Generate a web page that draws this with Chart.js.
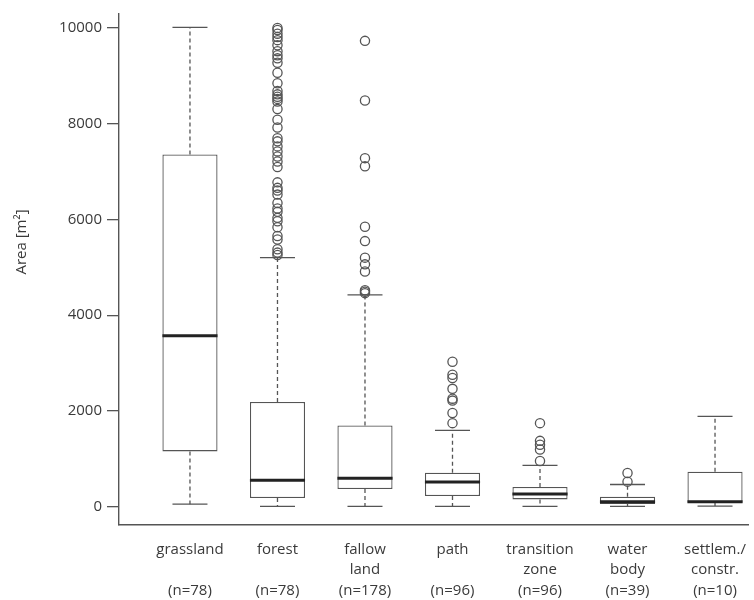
<!DOCTYPE html>
<html>
<head>
<meta charset="utf-8">
<script src="https://cdn.jsdelivr.net/npm/chart.js@4/dist/chart.umd.min.js"></script>
<style>
  html, body { margin: 0; padding: 0; background: #fff; }
  canvas { display: block; }
</style>
</head>
<body>
<canvas id="c" width="754" height="600"></canvas>
<script>
// Land-cover classes and their sample sizes
const categories = [
  ['grassland'], ['forest'], ['fallow', 'land'], ['path'],
  ['transition', 'zone'], ['water', 'body'], ['settlem./', 'constr.']
];
const sampleSizes = [78, 78, 178, 96, 96, 39, 10];

// Five-number summaries (area in m²)
const whiskerLow  = [60,    15,   15,   15,   15,  15,  20];
const q1          = [1160,  190,  375,  230,  160, 62,  90];
const median      = [3570,  560,  600,  525,  270, 110, 110];
const q3          = [7350,  2190, 1700, 715,  420, 215, 735];
const whiskerHigh = [10000, 5200, 4425, 1600, 870, 470, 1890];

// Values beyond the whiskers
const outliersGrassland = [];
const outliersForest = [9990, 9945, 9870, 9800, 9735, 9630, 9505, 9420, 9355, 9265,
  9055, 8835, 8675, 8605, 8555, 8510, 8455, 8300, 8075, 7915, 7690, 7625, 7520, 7415,
  7310, 7205, 7090, 6770, 6655, 6600, 6515, 6340, 6225, 6155, 6030, 5960, 5835, 5650,
  5580, 5375, 5305, 5255];
const outliersFallow = [9720, 8475, 7275, 7105, 5845, 5545, 5200, 5060, 4910, 4520, 4490, 4460];
const outliersPath = [3030, 2760, 2690, 2465, 2260, 2220, 1960, 1750];
const outliersTransition = [1750, 1380, 1300, 1200, 960];
const outliersWater = [710, 530];
const outliersSettlement = [];
const outliers = [outliersGrassland, outliersForest, outliersFallow, outliersPath,
  outliersTransition, outliersWater, outliersSettlement];

const yTicks = [0, 2000, 4000, 6000, 8000, 10000];

// Geometry in x-axis units (one category = 1 unit)
const BOX_FRACTION = 0.63;
const HALF_BOX = BOX_FRACTION / 2;
const HALF_CAP = 0.2;

const xs = categories.map((_, i) => i + 1);

const boxData = xs.map((x, i) => ({ x, y: [q1[i], q3[i]] }));
const medianData = xs.flatMap((x, i) => [
  { x: x - HALF_BOX, y: median[i] }, { x: x + HALF_BOX, y: median[i] }, { x, y: null }
]);
const whiskerData = xs.flatMap((x, i) => [
  { x, y: q3[i] }, { x, y: whiskerHigh[i] }, { x, y: null },
  { x, y: q1[i] }, { x, y: whiskerLow[i] }, { x, y: null }
]);
const capData = xs.flatMap((x, i) => [
  { x: x - HALF_CAP, y: whiskerHigh[i] }, { x: x + HALF_CAP, y: whiskerHigh[i] }, { x, y: null },
  { x: x - HALF_CAP, y: whiskerLow[i] }, { x: x + HALF_CAP, y: whiskerLow[i] }, { x, y: null }
]);
const outlierData = xs.flatMap((x, i) => outliers[i].map(v => ({ x, y: v })));

const FONT = "'Open Sans', 'DejaVu Sans', sans-serif";
const TEXT = '#3a3a3a';
const LINE = '#555';

const whiteBackground = {
  id: 'whiteBackground',
  beforeDraw(chart) {
    const { ctx } = chart;
    ctx.save();
    ctx.fillStyle = '#fff';
    ctx.fillRect(0, 0, chart.width, chart.height);
    ctx.restore();
  }
};

const yAxisTitle = {
  id: 'yAxisTitle',
  afterDraw(chart) {
    const { ctx } = chart;
    ctx.save();
    ctx.translate(22, 242);
    ctx.rotate(-Math.PI / 2);
    ctx.font = '15px ' + FONT;
    ctx.fillStyle = TEXT;
    ctx.textAlign = 'center';
    ctx.textBaseline = 'middle';
    ctx.fillText('Area [m²]', 0, 0);
    ctx.restore();
  }
};

new Chart(document.getElementById('c'), {
  type: 'bar',
  data: {
    datasets: [
      {
        type: 'scatter', data: outlierData,
        pointStyle: 'circle', pointRadius: 4.6, pointBorderWidth: 1.3,
        pointBorderColor: LINE, pointBackgroundColor: 'rgba(0,0,0,0)',
        order: 0
      },
      {
        type: 'line', data: medianData,
        borderColor: '#222', borderWidth: 3, pointRadius: 0,
        fill: false, spanGaps: false, tension: 0, order: 1
      },
      {
        type: 'line', data: capData,
        borderColor: LINE, borderWidth: 1.3, pointRadius: 0,
        fill: false, spanGaps: false, tension: 0, order: 2
      },
      {
        type: 'line', data: whiskerData,
        borderColor: LINE, borderWidth: 1.3, borderDash: [4, 3], pointRadius: 0,
        fill: false, spanGaps: false, tension: 0, order: 3
      },
      {
        type: 'bar', data: boxData,
        backgroundColor: '#fff', borderColor: LINE, borderWidth: 1.3,
        borderSkipped: false, categoryPercentage: 1, barPercentage: BOX_FRACTION,
        order: 4
      }
    ]
  },
  options: {
    responsive: false,
    maintainAspectRatio: false,
    animation: false,
    events: [],
    layout: { padding: { top: 12, left: 0, right: 0, bottom: 0 } },
    plugins: { legend: { display: false }, tooltip: { enabled: false } },
    scales: {
      x: {
        type: 'linear',
        min: 0.189, max: 7.378,
        offset: false,
        afterBuildTicks(scale) { scale.ticks = xs.map(v => ({ value: v })); },
        afterFit(scale) {
          scale.height = 75;
          scale.paddingLeft = 0;
          scale.paddingRight = 0;
        },
        grid: { display: false },
        border: { display: true, color: LINE, width: 1.4 },
        ticks: {
          autoSkip: false, maxRotation: 0, minRotation: 0, padding: 6,
          color: TEXT,
          font: { family: FONT, size: 15, lineHeight: 20.5 / 15 },
          callback(value) {
            const i = Math.round(value) - 1;
            const name = categories[i];
            const lines = name.length > 1 ? name.slice() : [name[0], ''];
            lines.push('(n=' + sampleSizes[i] + ')');
            return lines;
          }
        }
      },
      y: {
        type: 'linear',
        min: -374, max: 10280,
        afterBuildTicks(scale) { scale.ticks = yTicks.map(v => ({ value: v })); },
        afterFit(scale) { scale.width = 119; },
        grid: {
          display: true, drawOnChartArea: false, drawTicks: true,
          tickLength: 12, color: LINE, lineWidth: 1.3
        },
        border: { display: true, color: LINE, width: 1.4 },
        ticks: {
          padding: 5, color: TEXT,
          font: { family: FONT, size: 15 },
          callback: v => String(v)
        }
      }
    }
  },
  plugins: [whiteBackground, yAxisTitle]
});
</script>
</body>
</html>
